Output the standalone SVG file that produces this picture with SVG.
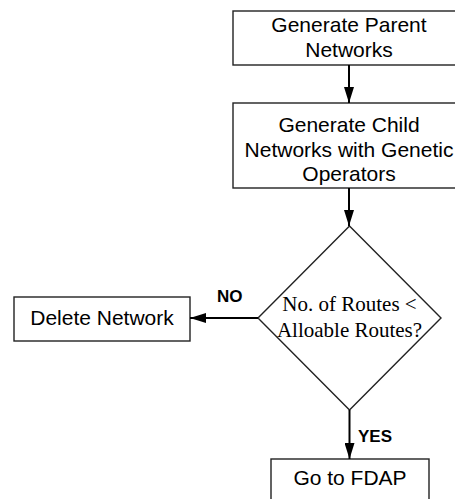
<svg xmlns="http://www.w3.org/2000/svg" width="455" height="499" viewBox="0 0 455 499">
<defs>
<style>
.box{fill:#fff;stroke:#222;stroke-width:1.4}
.t{font-family:"Liberation Sans",Arial,sans-serif;font-size:21px;text-anchor:middle;fill:#000}
.s{font-family:"Liberation Serif","Times New Roman",serif;font-size:21px;text-anchor:middle;fill:#000}
.lbl{font-family:"Liberation Sans",Arial,sans-serif;font-size:17px;font-weight:bold;fill:#000}
.edge{stroke:#000;stroke-width:2;fill:none}
</style>
<marker id="ah" markerWidth="16" markerHeight="10" refX="16" refY="5" orient="auto" markerUnits="userSpaceOnUse">
<path d="M0,0 L16,5 L0,10 Z" fill="#000"/>
</marker>
</defs>
<rect width="455" height="499" fill="#fff"/>
<g id="parent">
<rect class="box" x="233" y="11" width="232" height="54"/>
<text class="t" x="349" y="32">Generate Parent</text>
<text class="t" x="349" y="57">Networks</text>
</g>
<g id="child">
<rect class="box" x="233" y="103" width="232" height="85"/>
<text class="t" x="349" y="132">Generate Child</text>
<text class="t" x="349" y="157">Networks with Genetic</text>
<text class="t" x="349" y="181">Operators</text>
</g>
<g id="decision">
<polygon class="box" points="349.5,226 441,318 349.5,410 258,318"/>
<text class="s" x="349.5" y="311">No. of Routes &lt;</text>
<text class="s" x="349.5" y="337">Alloable Routes?</text>
</g>
<g id="delete">
<rect class="box" x="14" y="297" width="176" height="44"/>
<text class="t" x="102" y="325">Delete Network</text>
</g>
<g id="fdap">
<rect class="box" x="271" y="459" width="158" height="50"/>
<text class="t" x="350" y="485">Go to FDAP</text>
</g>
<g id="connectors">
<line class="edge" x1="349" y1="65" x2="349" y2="103" marker-end="url(#ah)"/>
<line class="edge" x1="349" y1="188" x2="349" y2="226" marker-end="url(#ah)"/>
<line class="edge" x1="258" y1="318" x2="190" y2="318" marker-end="url(#ah)"/>
<line class="edge" x1="349.5" y1="410" x2="349.5" y2="459" marker-end="url(#ah)"/>
<text class="lbl" x="217" y="302">NO</text>
<text class="lbl" x="358" y="442">YES</text>
</g>
</svg>
